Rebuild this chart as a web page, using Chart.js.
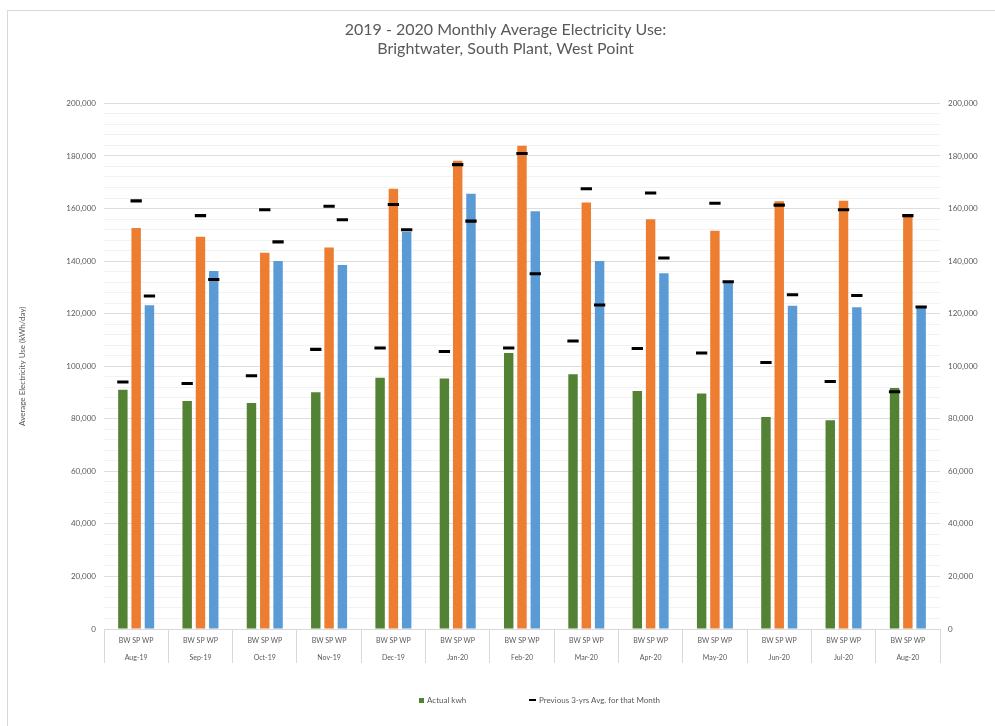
<!DOCTYPE html>
<html lang="en">
<head>
    <meta charset="UTF-8">
    <title>2019 - 2020 Monthly Average Electricity Use</title>
    <style>
        body {
            margin: 0;
            background: #fff;
            font-family: Lato, "Open Sans", sans-serif;
        }

        .wrap {
            position: relative;
            width: 995px;
            height: 726px;
        }

        .frame {
            position: absolute;
            left: 7px;
            top: 10px;
            right: 0;
            bottom: 0;
            border-top: 1px solid #d9d9d9;
            border-left: 1px solid #d9d9d9;
        }

        canvas {
            position: absolute;
            left: 0;
            top: 0;
        }

        .legend {
            position: absolute;
            top: 695px;
            font-size: 8px;
            color: #595959;
            display: flex;
            align-items: center;
            white-space: nowrap;
        }

        .legend i {
            display: inline-block;
            margin-right: 3px;
        }
    </style>
    <script src="https://cdn.jsdelivr.net/npm/chart.js"></script>
</head>
<body>
    <div class="wrap">
        <div class="frame"></div>
        <canvas id="usageChart" width="995" height="726"></canvas>
        <div class="legend" style="left: 419px;"><i style="width:5px;height:5px;background:#548235;"></i>Actual kwh</div>
        <div class="legend" style="left: 529px;"><i style="width:7px;height:2px;background:#000;"></i>Previous 3-yrs Avg. for that Month</div>
    </div>
    <script>
        // Months and plants (BW = Brightwater, SP = South Plant, WP = West Point)
        const months = ['Aug-19', 'Sep-19', 'Oct-19', 'Nov-19', 'Dec-19', 'Jan-20', 'Feb-20',
                        'Mar-20', 'Apr-20', 'May-20', 'Jun-20', 'Jul-20', 'Aug-20'];
        const plants = ['BW', 'SP', 'WP'];

        // Actual kWh/day
        const actualBW = [91000, 86800, 86000, 90100, 95600, 95300, 105000, 96900, 90600, 89600, 80700, 79400, 91700];
        const actualSP = [152600, 149300, 143200, 145200, 167500, 178200, 183900, 162300, 155900, 151500, 162800, 163000, 157200];
        const actualWP = [123200, 136200, 140000, 138500, 151200, 165600, 159000, 140000, 135400, 132000, 123000, 122400, 122500];

        // Previous 3-yrs avg. for that month
        const prevBW = [94000, 93400, 96400, 106400, 106900, 105600, 106900, 109600, 106700, 105000, 101400, 94200, 90300];
        const prevSP = [162900, 157300, 159500, 160900, 161500, 176700, 180900, 167500, 165900, 162000, 161300, 159500, 157300];
        const prevWP = [126700, 133000, 147300, 155700, 151900, 155200, 135200, 123300, 141200, 132100, 127200, 126900, 122500];

        const yTicks = [0, 20000, 40000, 60000, 80000, 100000, 120000, 140000, 160000, 180000, 200000];

        const colors = { BW: '#548235', SP: '#ED7D31', WP: '#5B9BD5' };
        const dashHalf = 580; // half thickness of the avg marker, in kWh
        const labelFont = { family: 'Lato', size: 8 };

        const actual = { BW: actualBW, SP: actualSP, WP: actualWP };
        const prev = { BW: prevBW, SP: prevSP, WP: prevWP };

        const datasets = [];
        // avg markers first so they are drawn above the bars
        plants.forEach(p => {
            datasets.push({
                label: 'Previous 3-yrs Avg. for that Month',
                data: prev[p].map(v => [v - dashHalf, v + dashHalf]),
                backgroundColor: '#000',
                stack: p,
                barPercentage: 0.85,
                categoryPercentage: 0.62
            });
        });
        plants.forEach(p => {
            datasets.push({
                label: 'Actual kwh',
                data: actual[p],
                backgroundColor: colors[p],
                stack: p,
                barPercentage: 0.71,
                categoryPercentage: 0.62
            });
        });

        const isMajor = v => yTicks.includes(v);
        const fmt = v => v.toLocaleString('en-US');

        new Chart(document.getElementById('usageChart'), {
            type: 'bar',
            data: {
                labels: months.map(m => [plants.join(' '), m]),
                datasets: datasets
            },
            options: {
                responsive: false,
                animation: false,
                layout: { padding: { left: 16, right: 0, top: 0, bottom: 63 } },
                plugins: {
                    legend: { display: false },
                    tooltip: { enabled: false },
                    title: {
                        display: true,
                        text: ['2019 - 2020 Monthly Average Electricity Use:', 'Brightwater, South Plant, West Point'],
                        color: '#595959',
                        font: { family: 'Lato', size: 16, weight: 'normal', lineHeight: 1.2 },
                        padding: { top: 20, bottom: 45 }
                    }
                },
                scales: {
                    x: {
                        offset: true,
                        grid: {
                            offset: true,
                            drawOnChartArea: false,
                            tickLength: 34,
                            color: '#d9d9d9'
                        },
                        border: { color: '#d9d9d9' },
                        ticks: {
                            color: '#595959',
                            font: { family: 'Lato', size: 7, lineHeight: 2.35 },
                            padding: -30,
                            maxRotation: 0,
                            autoSkip: false
                        },
                        afterFit: s => { s.height = 34; }
                    },
                    y: {
                        position: 'left',
                        stacked: false,
                        min: 0,
                        max: 200000,
                        border: { display: false },
                        grid: {
                            drawTicks: false,
                            color: c => isMajor(c.tick.value) ? '#dedede' : '#f2f2f2'
                        },
                        ticks: {
                            stepSize: 4000,
                            autoSkip: false,
                            padding: 8,
                            color: '#595959',
                            font: labelFont,
                            callback: v => isMajor(v) ? fmt(v) : ''
                        },
                        title: {
                            display: true,
                            text: 'Average Electricity Use (kWh/day)',
                            color: '#595959',
                            font: { family: 'Lato', size: 8 },
                            padding: { top: 2, bottom: 0 }
                        },
                        afterFit: s => { s.width = 88; }
                    },
                    y2: {
                        position: 'right',
                        min: 0,
                        max: 200000,
                        border: { display: false },
                        grid: { display: false, drawTicks: false },
                        ticks: {
                            stepSize: 20000,
                            padding: 8,
                            color: '#595959',
                            font: labelFont,
                            callback: v => fmt(v)
                        },
                        afterFit: s => { s.width = 55; }
                    }
                }
            }
        });
    </script>
</body>
</html>
